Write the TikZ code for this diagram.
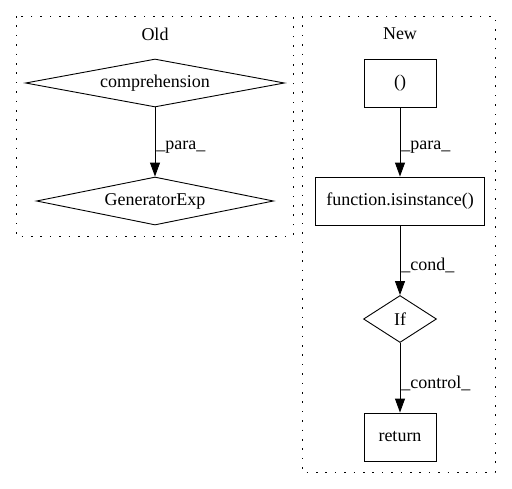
\documentclass[tikz,border=0pt]{standalone}
\usepackage{fontspec}
\setmainfont{Liberation Serif}
\usetikzlibrary{shapes.geometric, arrows.meta, positioning}

\begin{document}
\begin{tikzpicture}[x=1pt,y=1pt,node distance=118pt,on grid,auto,
    every node/.style={font=\fontsize{18}{20}\selectfont},
    op/.style={draw, line width=0.9pt, rectangle, minimum height=48pt, inner sep=3pt},
    test/.style={draw, line width=0.9pt, diamond, inner sep=0pt, shape aspect=5.4},
    cluster/.style={line width=0.9pt, dash pattern=on 1.6pt off 7.8pt},
    flow/.style={-{Triangle[length=14pt,width=10pt]}, line width=0.9pt}]
    \useasboundingbox (0,0) rectangle (512,-488);
    \draw[cluster] (16,-16) rectangle (293,-236);
    \draw[cluster] (302,-16) rectangle (495,-472);
    \node (old) at (155,-34) {Old};
    \node (new) at (400,-34) {New};
    \node[test, minimum width=259pt, minimum height=48pt] (comp) at (155,-83) {comprehension};
    \node[test, minimum width=237pt, minimum height=48pt] (genexp) [below=of comp] {GeneratorExp};
    \node[op, minimum width=72pt] (tuple) at (400,-83) {()};
    \node[op, minimum width=169pt] (isinst) [below=of tuple] {function.isinstance()};
    \node[test, minimum width=73pt, minimum height=47pt, shape aspect=1.55] (if) [below=of isinst] {If};
    \node[op, minimum width=72pt] (ret) [below=of if] {return};
    \path[flow] (comp) edge node [right, pos=0.58, inner sep=1pt] {\_para\_} (genexp);
    \path[flow] (tuple) edge node [right, pos=0.58, inner sep=1pt] {\_para\_} (isinst);
    \path[flow] (isinst) edge node [right, pos=0.58, inner sep=1pt] {\_cond\_} (if);
    \path[flow] (if) edge node [right, pos=0.58, inner sep=1pt] {\_control\_} (ret);
\end{tikzpicture}
\end{document}
